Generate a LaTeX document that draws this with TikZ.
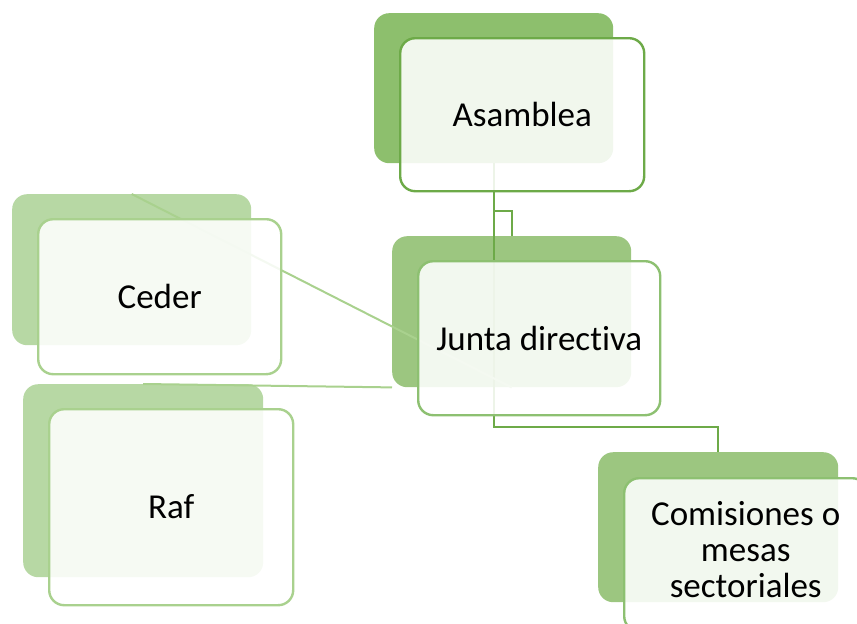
\documentclass[tikz,border=0pt]{standalone}
\usepackage{fontspec}
\setmainfont{Carlito}[Ligatures={NoCommon}]
\definecolor{cA}{HTML}{8DBF6D}
\definecolor{cB}{HTML}{9CC680}
\definecolor{cL}{HTML}{B7D8A4}
\definecolor{dA}{HTML}{6DAA48}
\definecolor{dB}{HTML}{8DC071}
\definecolor{dL}{HTML}{A9D18E}
\tikzset{
  backbox/.style={anchor=north west, inner sep=0pt, rounded corners=15pt, draw=none},
  frontbox/.style={anchor=north west, inner sep=0pt, rounded corners=15pt, line width=2.4pt,
    fill=white, fill opacity=0.88, text opacity=1, align=center,
    font=\fontsize{35}{36}\selectfont},
  conA/.style={draw=dA, line width=2pt},
  conL/.style={draw=dL, line width=2pt},
}
\begin{document}
\begin{tikzpicture}[x=1pt,y=-1pt]
\useasboundingbox (0,0) rectangle (857,624);
\clip (0,0) rectangle (857,624);
% back boxes
\node[backbox, fill=cA, minimum width=239pt, minimum height=150pt] (asB) at (374,13) {};
\node[backbox, fill=cB, minimum width=239pt, minimum height=151pt] (juB) at (392,236) {};
\node[backbox, fill=cB, minimum width=240pt, minimum height=150pt] (coB) at (598,452) {};
\node[backbox, fill=cL, minimum width=239pt, minimum height=151pt] (ceB) at (12,194) {};
\node[backbox, fill=cL, minimum width=240pt, minimum height=193pt] (raB) at (23,384) {};
% connectors
\draw[conA] (asB.south) -- ++(0,264) -| (coB.north);
\draw[conA] (asB.south) ++(0,48) -| (juB.north);
\draw[conL] (ceB.north) -- (juB.south);
\draw[conL] (raB.north) -- (juB.south west);
% front boxes
\node[frontbox, draw=dA, minimum width=244pt, minimum height=153pt] (asF) at (399,37) {Asamblea};
\node[frontbox, draw=dB, minimum width=242pt, minimum height=154pt] (juF) at (417,260) {Junta directiva};
\node[frontbox, draw=dB, minimum width=243pt, minimum height=153pt] (coF) at (623,477) {\raisebox{3pt}{\begin{tabular}{@{}c@{}}Comisiones o\\mesas\\sectoriales\end{tabular}}};
\node[frontbox, draw=dL, minimum width=243pt, minimum height=155pt] (ceF) at (37,218) {Ceder};
\node[frontbox, draw=dL, minimum width=244pt, minimum height=196pt] (raF) at (48,408) {\raisebox{2pt}{Raf}};
\end{tikzpicture}
\end{document}
